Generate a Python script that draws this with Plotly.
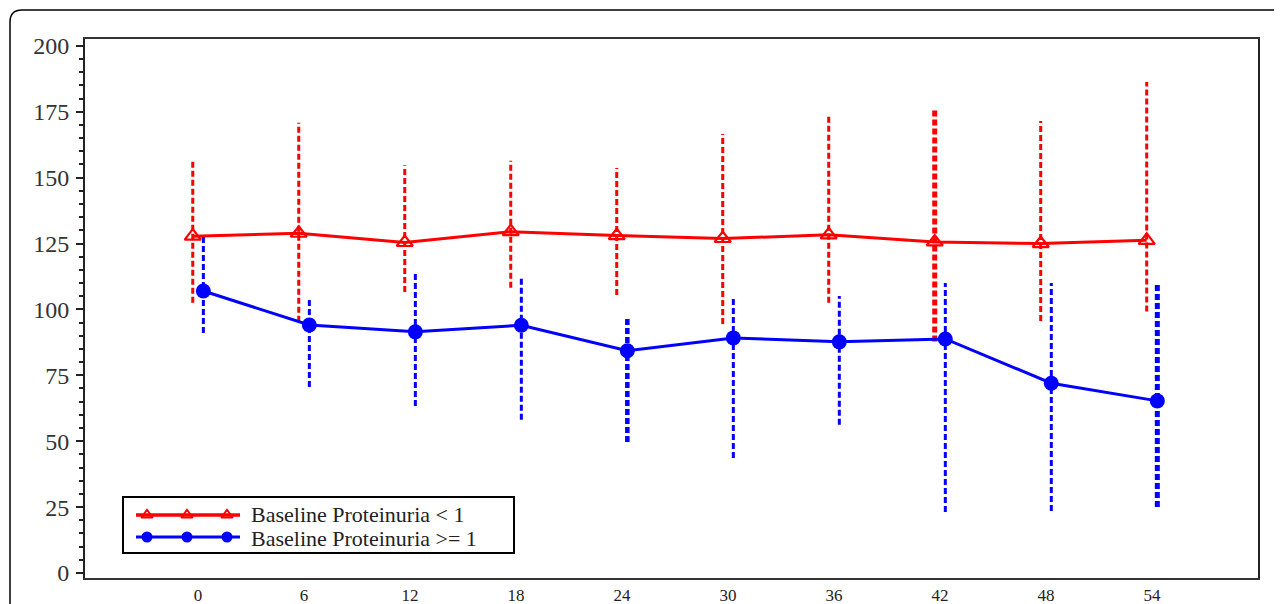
import plotly.graph_objects as go

# ---------------- data ----------------
months = [0, 6, 12, 18, 24, 30, 36, 42, 48, 54]

red_name = "Baseline Proteinuria < 1"
red_mean = [127.8, 128.9, 125.4, 129.5, 128.0, 126.9, 128.3, 125.6, 125.0, 126.2]
red_low = [102.5, 95.3, 106.6, 108.2, 105.5, 94.5, 102.5, 87.8, 95.6, 99.2]
red_high = [157.2, 170.8, 154.7, 156.4, 153.7, 166.6, 173.8, 176.1, 171.5, 186.3]

blue_name = "Baseline Proteinuria >= 1"
blue_mean = [107.0, 94.1, 91.5, 94.0, 84.3, 89.2, 87.7, 88.8, 72.0, 65.3]
blue_low = [91.1, 70.6, 63.4, 58.1, 49.7, 43.6, 56.2, 23.1, 23.5, 25.0]
blue_high = [127.9, 104.4, 114.6, 112.0, 97.2, 104.0, 105.1, 110.0, 110.0, 110.4]

y_ticks = [0, 25, 50, 75, 100, 125, 150, 175, 200]

# ---------------- style ----------------
PAGE_OFF = 8                      # default body margin of the html page
W, H = 1274, 596
P_LEFT, P_RIGHT, P_TOP, P_BOTTOM = 85, 1258, 39, 578   # plot area in page pixels
ML = P_LEFT - PAGE_OFF
MT = P_TOP - PAGE_OFF
MR = PAGE_OFF + W - P_RIGHT
MB = PAGE_OFF + H - P_BOTTOM
RED, BLUE = "#ff0000", "#0000ff"
SERIF = "Liberation Serif, Times New Roman, serif"
OFFSET = 0.3
thick_bars = {("red", 42): 5, ("blue", 24): 4.5, ("blue", 54): 5}


def px_x(px):
    return (px - P_LEFT) / (P_RIGHT - P_LEFT)


def px_y(py):
    return (P_BOTTOM - py) / (P_BOTTOM - P_TOP)


fig = go.Figure()


def add_series(key, name, color, mean, low, high, marker):
    xs = [m + (-OFFSET if key == "red" else OFFSET) for m in months]
    for x, lo, hi, m in zip(xs, low, high, months):
        fig.add_trace(go.Scatter(
            x=[x, x], y=[lo, hi], mode="lines",
            line=dict(color=color, width=thick_bars.get((key, m), 3), dash="6px,3px"),
            hoverinfo="skip", showlegend=False))
    fig.add_trace(go.Scatter(
        x=xs, y=mean, mode="lines+markers", name=name,
        line=dict(color=color, width=3),
        marker=marker, showlegend=False))


add_series("red", red_name, RED, red_mean, red_low, red_high,
           dict(symbol="triangle-up-open", size=14, color=RED, line=dict(width=2.2, color=RED)))
add_series("blue", blue_name, BLUE, blue_mean, blue_low, blue_high,
           dict(symbol="circle", size=15, color=BLUE))

# ---------------- custom legend ----------------
leg_rows = [(red_name, RED, 515, 514, dict(symbol="triangle-up-open", size=10, color=RED, line=dict(width=2, color=RED)), 3.5),
            (blue_name, BLUE, 537, 538, dict(symbol="circle", size=11, color=BLUE), 3)]
for name, color, py, ty, mk, lw in leg_rows:
    fig.add_trace(go.Scatter(
        x=[px_x(136), px_x(147), px_x(187), px_x(227), px_x(240)],
        y=[px_y(py)] * 5, mode="lines", line=dict(color=color, width=lw),
        xaxis="x2", yaxis="y2", hoverinfo="skip", showlegend=False))
    fig.add_trace(go.Scatter(
        x=[px_x(147), px_x(187), px_x(227)], y=[px_y(py)] * 3, mode="markers",
        marker=mk, xaxis="x2", yaxis="y2", hoverinfo="skip", showlegend=False))
    fig.add_annotation(x=px_x(249), y=px_y(ty), xref="paper", yref="paper",
                       text=name, showarrow=False, xanchor="left", yanchor="middle",
                       font=dict(family=SERIF, size=22, color="#222"))

shapes = [
    # legend box
    dict(type="rect", xref="paper", yref="paper",
         x0=px_x(123), x1=px_x(514), y0=px_y(553), y1=px_y(497),
         line=dict(color="black", width=2), fillcolor="rgba(0,0,0,0)"),
    # outer rounded frame
    dict(type="path", xref="paper", yref="paper",
         path=(f"M {px_x(10)},{px_y(620)} L {px_x(10)},{px_y(22)} "
               f"Q {px_x(10)},{px_y(10)} {px_x(22)},{px_y(10)} L {px_x(1300)},{px_y(10)}"),
         line=dict(color="black", width=1.5)),
]

fig.update_layout(
    width=W, height=H,
    margin=dict(l=ML, r=MR, t=MT, b=MB, autoexpand=False),
    paper_bgcolor="white", plot_bgcolor="white",
    shapes=shapes,
    xaxis=dict(range=[-6.4, 60], tickvals=months, ticktext=[str(m) for m in months],
               automargin=False,
               showgrid=False, zeroline=False, showline=True, mirror=True,
               linecolor="#333", linewidth=2, ticks="", ticklabelstandoff=1,
               tickfont=dict(family=SERIF, size=17, color="#222")),
    yaxis=dict(range=[-1.9, 202.6], tickvals=y_ticks, automargin=False,
               showgrid=False, zeroline=False, showline=True, mirror=True,
               linecolor="#222", linewidth=2, ticks="outside", ticklen=7,
               tickwidth=2, tickcolor="#222", ticklabelstandoff=2,
               minor=dict(dtick=5, ticks="outside", ticklen=4, tickwidth=1.5, tickcolor="#222"),
               tickfont=dict(family=SERIF, size=24, color="#333")),
    xaxis2=dict(range=[0, 1], overlaying="x", visible=False, fixedrange=True),
    yaxis2=dict(range=[0, 1], overlaying="y", visible=False, fixedrange=True),
)

fig.write_html("out.html")
